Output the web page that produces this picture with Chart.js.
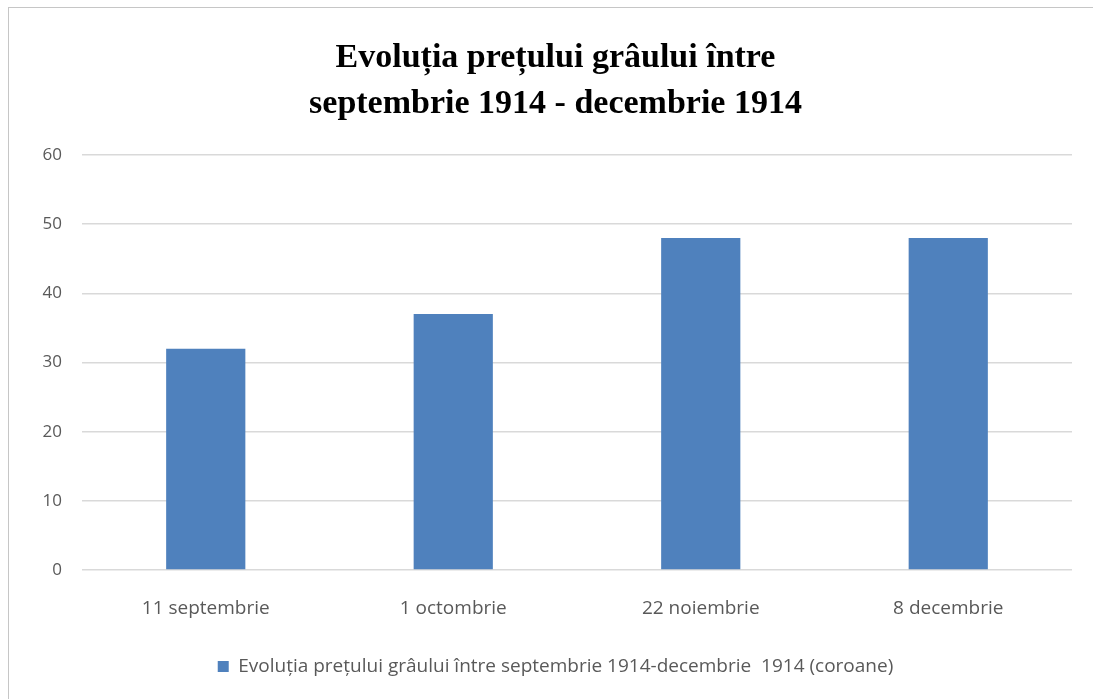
<!DOCTYPE html>
<html>
<head>
<meta charset="utf-8">
<script src="https://cdn.jsdelivr.net/npm/chart.js@4"></script>
<style>
    html, body { margin: 0; padding: 0; background: #fff; }
    body { width: 1093px; height: 699px; position: relative; overflow: hidden; }
    #frame {
        position: absolute; left: 8px; top: 7px; right: 0; bottom: 0;
        border-left: 1px solid #c6c6c6; border-top: 1px solid #c6c6c6;
    }
    #chart { position: absolute; left: 0; top: 0; }
</style>
</head>
<body>
<div id="frame"><canvas id="chart" width="1084" height="691"></canvas></div>
<script>
const categories = ['11 septembrie', '1 octombrie', '22 noiembrie', '8 decembrie'];
const prices = [32, 37, 48, 48];
const yTicks = [0, 10, 20, 30, 40, 50, 60];
const seriesName = 'Evoluția prețului grâului între septembrie 1914-decembrie  1914 (coroane)';
const titleLines = ['Evoluția prețului grâului între', 'septembrie 1914 - decembrie 1914'];

const sans = "'Open Sans', 'Liberation Sans', sans-serif";
const grey = '#595959';
const blue = '#4F81BD';

const ctx = document.getElementById('chart').getContext('2d');
new Chart(ctx, {
    type: 'bar',
    data: {
        labels: categories,
        datasets: [{
            label: seriesName,
            data: prices,
            backgroundColor: blue,
            borderWidth: 0,
            barPercentage: 0.32,
            categoryPercentage: 1
        }]
    },
    options: {
        responsive: false,
        animation: false,
        // title and legend in the original sit a bit right of the canvas centre
        layout: { padding: { left: 30, right: 21, top: 0, bottom: 13 } },
        scales: {
            x: {
                grid: { display: false },
                border: { display: false },
                ticks: { color: grey, padding: 19, font: { family: sans, size: 19 }, maxRotation: 0 },
                afterFit: s => { s.height = 77; }
            },
            y: {
                min: 0, max: 60,
                afterBuildTicks: s => { s.ticks = yTicks.map(v => ({ value: v })); },
                grid: { color: '#d9d9d9', lineWidth: 1.5, drawTicks: false },
                border: { display: false },
                ticks: { color: grey, padding: 20, font: { family: sans, size: 17 } },
                afterFit: s => { s.width = 43; }
            }
        },
        plugins: {
            title: {
                display: true,
                text: titleLines,
                color: '#000',
                font: { family: "'Liberation Serif', 'Times New Roman', serif", size: 34, weight: 'bold', lineHeight: 1.353 },
                padding: { top: 27, bottom: 28 }
            },
            legend: {
                position: 'bottom',
                labels: {
                    color: grey,
                    boxWidth: 11, boxHeight: 11,
                    padding: 10,
                    font: { family: sans, size: 19 }
                }
            },
            tooltip: { enabled: false }
        }
    }
});
</script>
</body>
</html>
